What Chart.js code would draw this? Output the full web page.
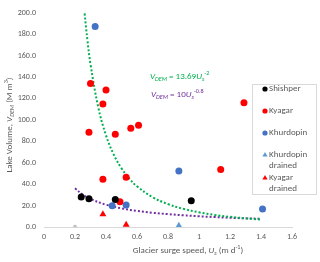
<!DOCTYPE html>
<html><head><meta charset="utf-8">
<script src="https://cdn.jsdelivr.net/npm/chart.js@4.4.0/dist/chart.umd.min.js"></script>
<style>html,body{margin:0;padding:0;background:#fff;overflow:hidden}</style></head>
<body><canvas id="c" width="320" height="262"></canvas>
<script>
const xTickLabels = ['0','0.2','0.4','0.6','0.8','1','1.2','1.4','1.6'];
const yTickLabels = ['0.0','20.0','40.0','60.0','80.0','100.0','120.0','140.0','160.0','180.0','200.0'];

const seriesNames = ['Shishper','Kyagar','Khurdopin','Khurdopin drained','Kyagar drained'];
const shishperX = [0.24,0.29,0.46,0.95];
const shishperY = [28.1,26.3,25.7,24.4];
const kyagarX = [0.30,0.40,0.38,0.29,0.46,0.56,0.61,1.29,1.14,0.38,0.53,0.49];
const kyagarY = [134,128,114.8,88.4,86.6,92.1,95.1,116,53.8,44.6,46.5,23.5];
const khurdopinX = [0.33,0.87,0.44,0.53,1.41];
const khurdopinY = [187.3,52.3,19.8,20.5,16.8];
const khurdopinDrainedX = [0.87];
const khurdopinDrainedY = [1.2];
const kyagarDrainedX = [0.38,0.53];
const kyagarDrainedY = [11.9,2.1];
const greyX = [0.2];
const greyY = [0.3];

// trend lines (power fits as labelled)
const greenFitX = [0.262,0.28,0.3,0.35,0.4,0.45,0.5,0.55,0.6,0.7,0.8,0.9,1.0,1.1,1.2,1.3,1.4];
const greenFitY = [199.4,174.6,152.1,111.8,85.6,67.6,54.8,45.3,38.0,27.9,21.4,16.9,13.7,11.3,9.5,8.1,7.0];
const purpleFitX = [0.2,0.25,0.3,0.4,0.5,0.6,0.7,0.8,0.9,1.0,1.1,1.2,1.3,1.4];
const purpleFitY = [36.2,30.3,26.2,20.8,17.4,15.0,13.3,12.0,10.9,10.0,9.3,8.6,8.1,7.6];

const zip = (xs, ys) => xs.map((x, i) => ({x, y: ys[i]}));
const FONT = "'Carlito','Liberation Sans Narrow','Liberation Sans',sans-serif";
const GREY = '#595959';

const colors = ['#000000','#ff0000','#4472c4','#5b9bd5','#ff0000'];
const styles = ['circle','circle','circle','triangle','triangle'];

const pts = [
  zip(shishperX, shishperY), zip(kyagarX, kyagarY), zip(khurdopinX, khurdopinY),
  zip(khurdopinDrainedX, khurdopinDrainedY), zip(kyagarDrainedX, kyagarDrainedY)
];

const datasets = [
  {type:'line', data: zip(greenFitX, greenFitY), borderColor:'#00b050', borderWidth:2, borderDash:[2,2], pointRadius:0, tension:0.4, fill:false, order:2},
  {type:'line', data: zip(purpleFitX, purpleFitY), borderColor:'#7030a0', borderWidth:2, borderDash:[2,2], pointRadius:0, tension:0.4, fill:false, order:2},
  {type:'scatter', data: zip(greyX, greyY), backgroundColor:'#bfbfbf', borderColor:'#bfbfbf', pointRadius:1.5, order:1}
];
pts.forEach((d, i) => datasets.push({
  type:'scatter', label: seriesNames[i], data: d, pointStyle: styles[i],
  backgroundColor: colors[i], borderColor: colors[i], borderWidth: 0,
  pointRadius: styles[i] === 'triangle' ? 4 : 3.5, order: 1
}));

function rich(ctx, parts, x, y, size, color, align) {
  ctx.save();
  ctx.fillStyle = color;
  ctx.textBaseline = 'middle';
  ctx.textAlign = 'left';
  const fontOf = p => (p.i ? 'italic ' : '') + (p.s || p.u ? size*0.68 : size) + 'px ' + FONT;
  let w = 0;
  parts.forEach(p => { ctx.font = fontOf(p); w += ctx.measureText(p.t).width; });
  let cx = align === 'center' ? x - w/2 : x;
  parts.forEach(p => {
    ctx.font = fontOf(p);
    const dy = p.s ? size*0.3 : (p.u ? -size*0.35 : 0);
    ctx.fillText(p.t, cx, y + dy);
    cx += ctx.measureText(p.t).width;
  });
  ctx.restore();
}

const extras = {
  id: 'extras',
  afterDraw(chart) {
    const ctx = chart.ctx;
    rich(ctx, [{t:'V',i:1},{t:'DEM',i:1,s:1},{t:' = 13.69'},{t:'U',i:1},{t:'s',i:1,s:1},{t:'-2',u:1}], 150, 77, 9, '#00b050');
    rich(ctx, [{t:'V',i:1},{t:'DEM',i:1,s:1},{t:' = 10'},{t:'U',i:1},{t:'s',i:1,s:1},{t:'-0.8',u:1}], 151, 95, 9, '#7030a0');
    rich(ctx, [{t:'Glacier surge speed, '},{t:'U',i:1},{t:'s',i:1,s:1},{t:' (m d'},{t:'-1',u:1},{t:')'}], 188, 251, 9, GREY, 'center');
    ctx.save();
    ctx.translate(10, 125);
    ctx.rotate(-Math.PI/2);
    rich(ctx, [{t:'Lake Volume, '},{t:'V',i:1},{t:'DEM',i:1,s:1},{t:' (M m'},{t:'3',u:1},{t:')'}], 0, 0, 9, GREY, 'center');
    ctx.restore();
    // legend
    ctx.save();
    ctx.fillStyle = '#ffffff';
    ctx.strokeStyle = '#d9d9d9';
    ctx.lineWidth = 1;
    ctx.fillRect(252, 84, 64, 110);
    ctx.strokeRect(252.5, 84.5, 64, 110);
    const rows = [[89],[111],[133],[155,166],[178,189]];
    const lines = [['Shishper'],['Kyagar'],['Khurdopin'],['Khurdopin','drained'],['Kyagar','drained']];
    rows.forEach((r, i) => {
      ctx.fillStyle = colors[i];
      ctx.strokeStyle = colors[i];
      Chart.helpers.drawPoint(ctx, {pointStyle: styles[i], radius: styles[i]==='triangle'?3:2.6, borderWidth:0, rotation:0}, 265, r[0]);
      ctx.fillStyle = GREY;
      ctx.font = '9px ' + FONT;
      ctx.textBaseline = 'middle';
      ctx.textAlign = 'left';
      lines[i].forEach((t, j) => ctx.fillText(t, 269, r[j]));
    });
    ctx.restore();
  }
};

new Chart(document.getElementById('c'), {
  data: { datasets },
  options: {
    responsive: false, animation: false,
    layout: { padding: { left: 0, right: 28, top: 9, bottom: 0 } },
    plugins: { legend: { display: false }, tooltip: { enabled: false } },
    scales: {
      x: {
        type: 'linear', min: 0, max: 1.6,
        afterFit: s => { s.height = 35; },
        grid: { display: false, drawTicks: false },
        border: { display: true, color: '#d9d9d9' },
        ticks: { stepSize: 0.2, color: GREY, font: { size: 8, family: FONT }, padding: 5,
          callback: (v, i) => xTickLabels[i] }
      },
      y: {
        min: 0, max: 200,
        afterFit: s => { s.width = 44; },
        grid: { display: false, drawTicks: false },
        border: { display: false },
        ticks: { stepSize: 20, color: GREY, font: { size: 8, family: FONT }, padding: 8,
          callback: (v, i) => yTickLabels[i] }
      }
    }
  },
  plugins: [extras]
});
</script></body></html>
